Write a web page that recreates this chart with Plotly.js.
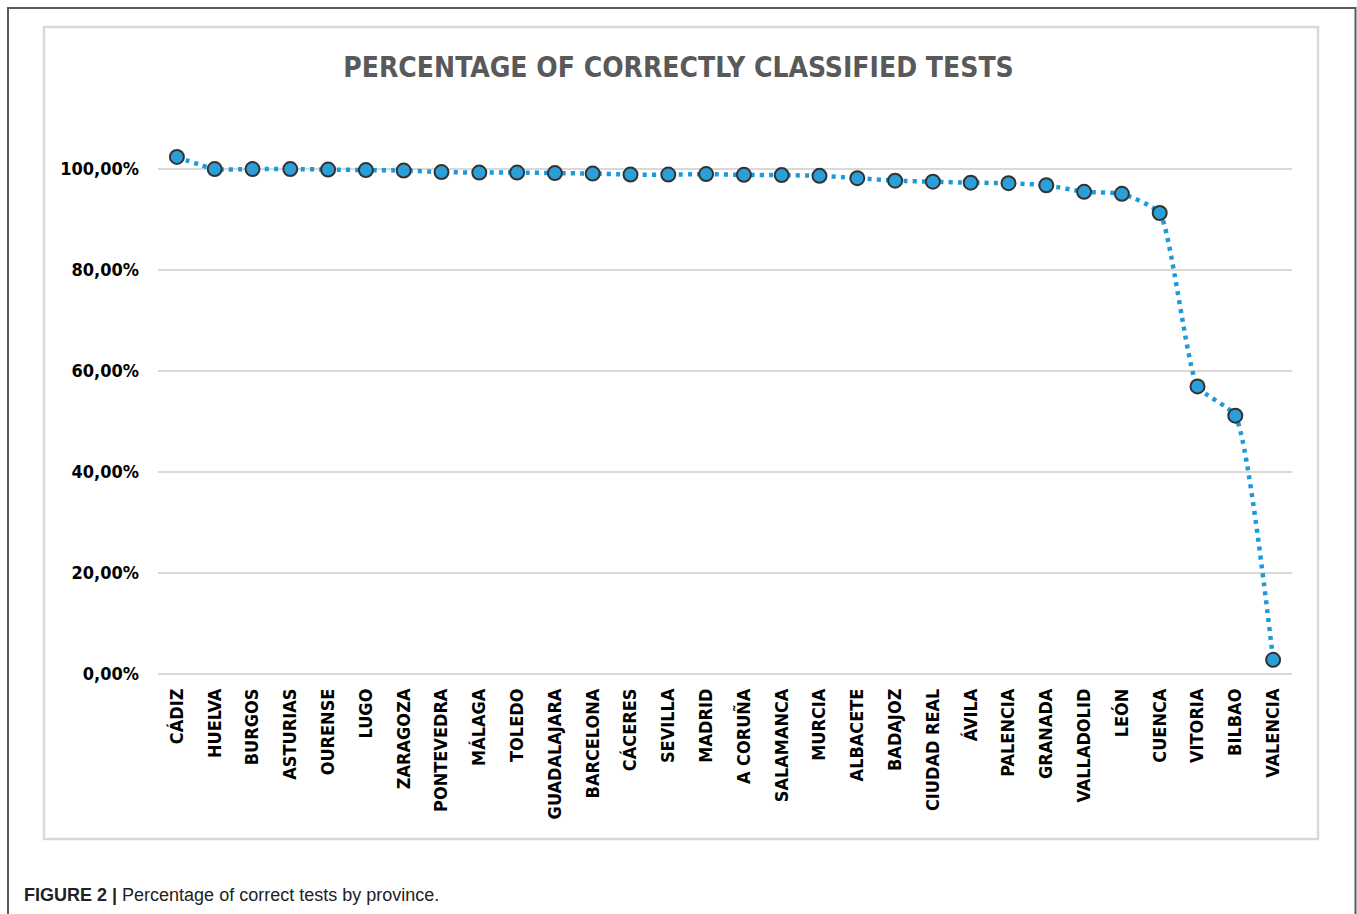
<!DOCTYPE html>
<html>
<head>
<meta charset="utf-8">
<script src="https://cdn.plot.ly/plotly-3.0.1.min.js"></script>
<style>html,body{margin:0;padding:0;background:#fff;}#chart{width:1357px;height:914px;}</style>
</head>
<body>
<div id="chart"></div>
<script>
const provinces = ["CÁDIZ","HUELVA","BURGOS","ASTURIAS","OURENSE","LUGO","ZARAGOZA","PONTEVEDRA","MÁLAGA","TOLEDO","GUADALAJARA","BARCELONA","CÁCERES","SEVILLA","MADRID","A CORUÑA","SALAMANCA","MURCIA","ALBACETE","BADAJOZ","CIUDAD REAL","ÁVILA","PALENCIA","GRANADA","VALLADOLID","LEÓN","CUENCA","VITORIA","BILBAO","VALENCIA"];
const percentCorrect = [102.3,99.9,99.9,99.9,99.8,99.7,99.6,99.3,99.2,99.2,99.1,99.0,98.8,98.8,98.9,98.75,98.7,98.55,98.1,97.6,97.4,97.2,97.1,96.7,95.4,95.0,91.2,56.9,51.1,2.8];
const yTickVals = [0,20,40,60,80,100];
const yTickLabels = ["0,00%","20,00%","40,00%","60,00%","80,00%","100,00%"];

const chartFont = '"Liberation Sans Narrow", "DejaVu Sans Condensed", "Open Sans", sans-serif';

// pixel -> paper helpers (plot area: x 158..1292, y 118..674)
const PL = 158, PW = 1134, PT = 118, PB = 674, PH = PB - PT;
const px = v => (v - PL) / PW;
const py = v => (PB - v) / PH;

const trace = {
  x: provinces,
  y: percentCorrect,
  type: 'scatter',
  mode: 'lines+markers',
  line: {color: '#1f9ad8', width: 4.5, dash: '4px,5px', shape: 'spline', smoothing: 0.5},
  marker: {size: 14, color: '#2a9fd8', line: {color: '#333333', width: 2}},
  hoverinfo: 'x+y'
};

const layout = {
  width: 1357, height: 914,
  paper_bgcolor: '#ffffff', plot_bgcolor: '#ffffff',
  margin: {l: PL, r: 1357 - (PL + PW), t: PT, b: 914 - PB, pad: 0},
  showlegend: false,
  title: {
    text: '<b>PERCENTAGE OF CORRECTLY CLASSIFIED TESTS</b>',
    font: {family: chartFont, size: 28, color: '#595959'},
    x: 0.5, xref: 'container', xanchor: 'center',
    y: 1 - 67 / 914, yref: 'container', yanchor: 'middle'
  },
  xaxis: {
    type: 'category',
    showgrid: false, zeroline: false, showline: false,
    ticks: '', tickangle: -90,
    ticklabelstandoff: 10,
    tickfont: {family: chartFont, size: 18, color: '#000000', weight: 'bold'},
    range: [-0.5, provinces.length - 0.5]
  },
  yaxis: {
    range: [0, 110],
    tickmode: 'array',
    tickvals: yTickVals,
    ticktext: yTickLabels,
    showgrid: true, gridcolor: '#d9d9d9', gridwidth: 2,
    zeroline: true, zerolinecolor: '#d9d9d9', zerolinewidth: 2,
    showline: false, ticks: '',
    ticklabelstandoff: 18,
    tickfont: {family: chartFont, size: 18, color: '#000000', weight: 'bold'}
  },
  shapes: [
    {type: 'path', xref: 'paper', yref: 'paper',
     path: `M ${px(8)} ${py(930)} L ${px(8)} ${py(8)} L ${px(1355.5)} ${py(8)} L ${px(1355.5)} ${py(930)}`,
     line: {color: '#5a5a5a', width: 2}},
    {type: 'rect', xref: 'paper', yref: 'paper',
     x0: px(44), x1: px(1318), y0: py(839), y1: py(27),
     line: {color: '#d9d9d9', width: 2.5}}
  ],
  annotations: [
    {xref: 'paper', yref: 'paper', x: px(22), y: py(895), xanchor: 'left', yanchor: 'middle',
     showarrow: false,
     text: '<b>FIGURE 2 |</b> Percentage of correct tests by province.',
     font: {family: '"Liberation Sans", Arial, sans-serif', size: 18, color: '#222222'}}
  ]
};

Plotly.newPlot('chart', [trace], layout, {displayModeBar: false, staticPlot: true});
</script>
</body>
</html>
